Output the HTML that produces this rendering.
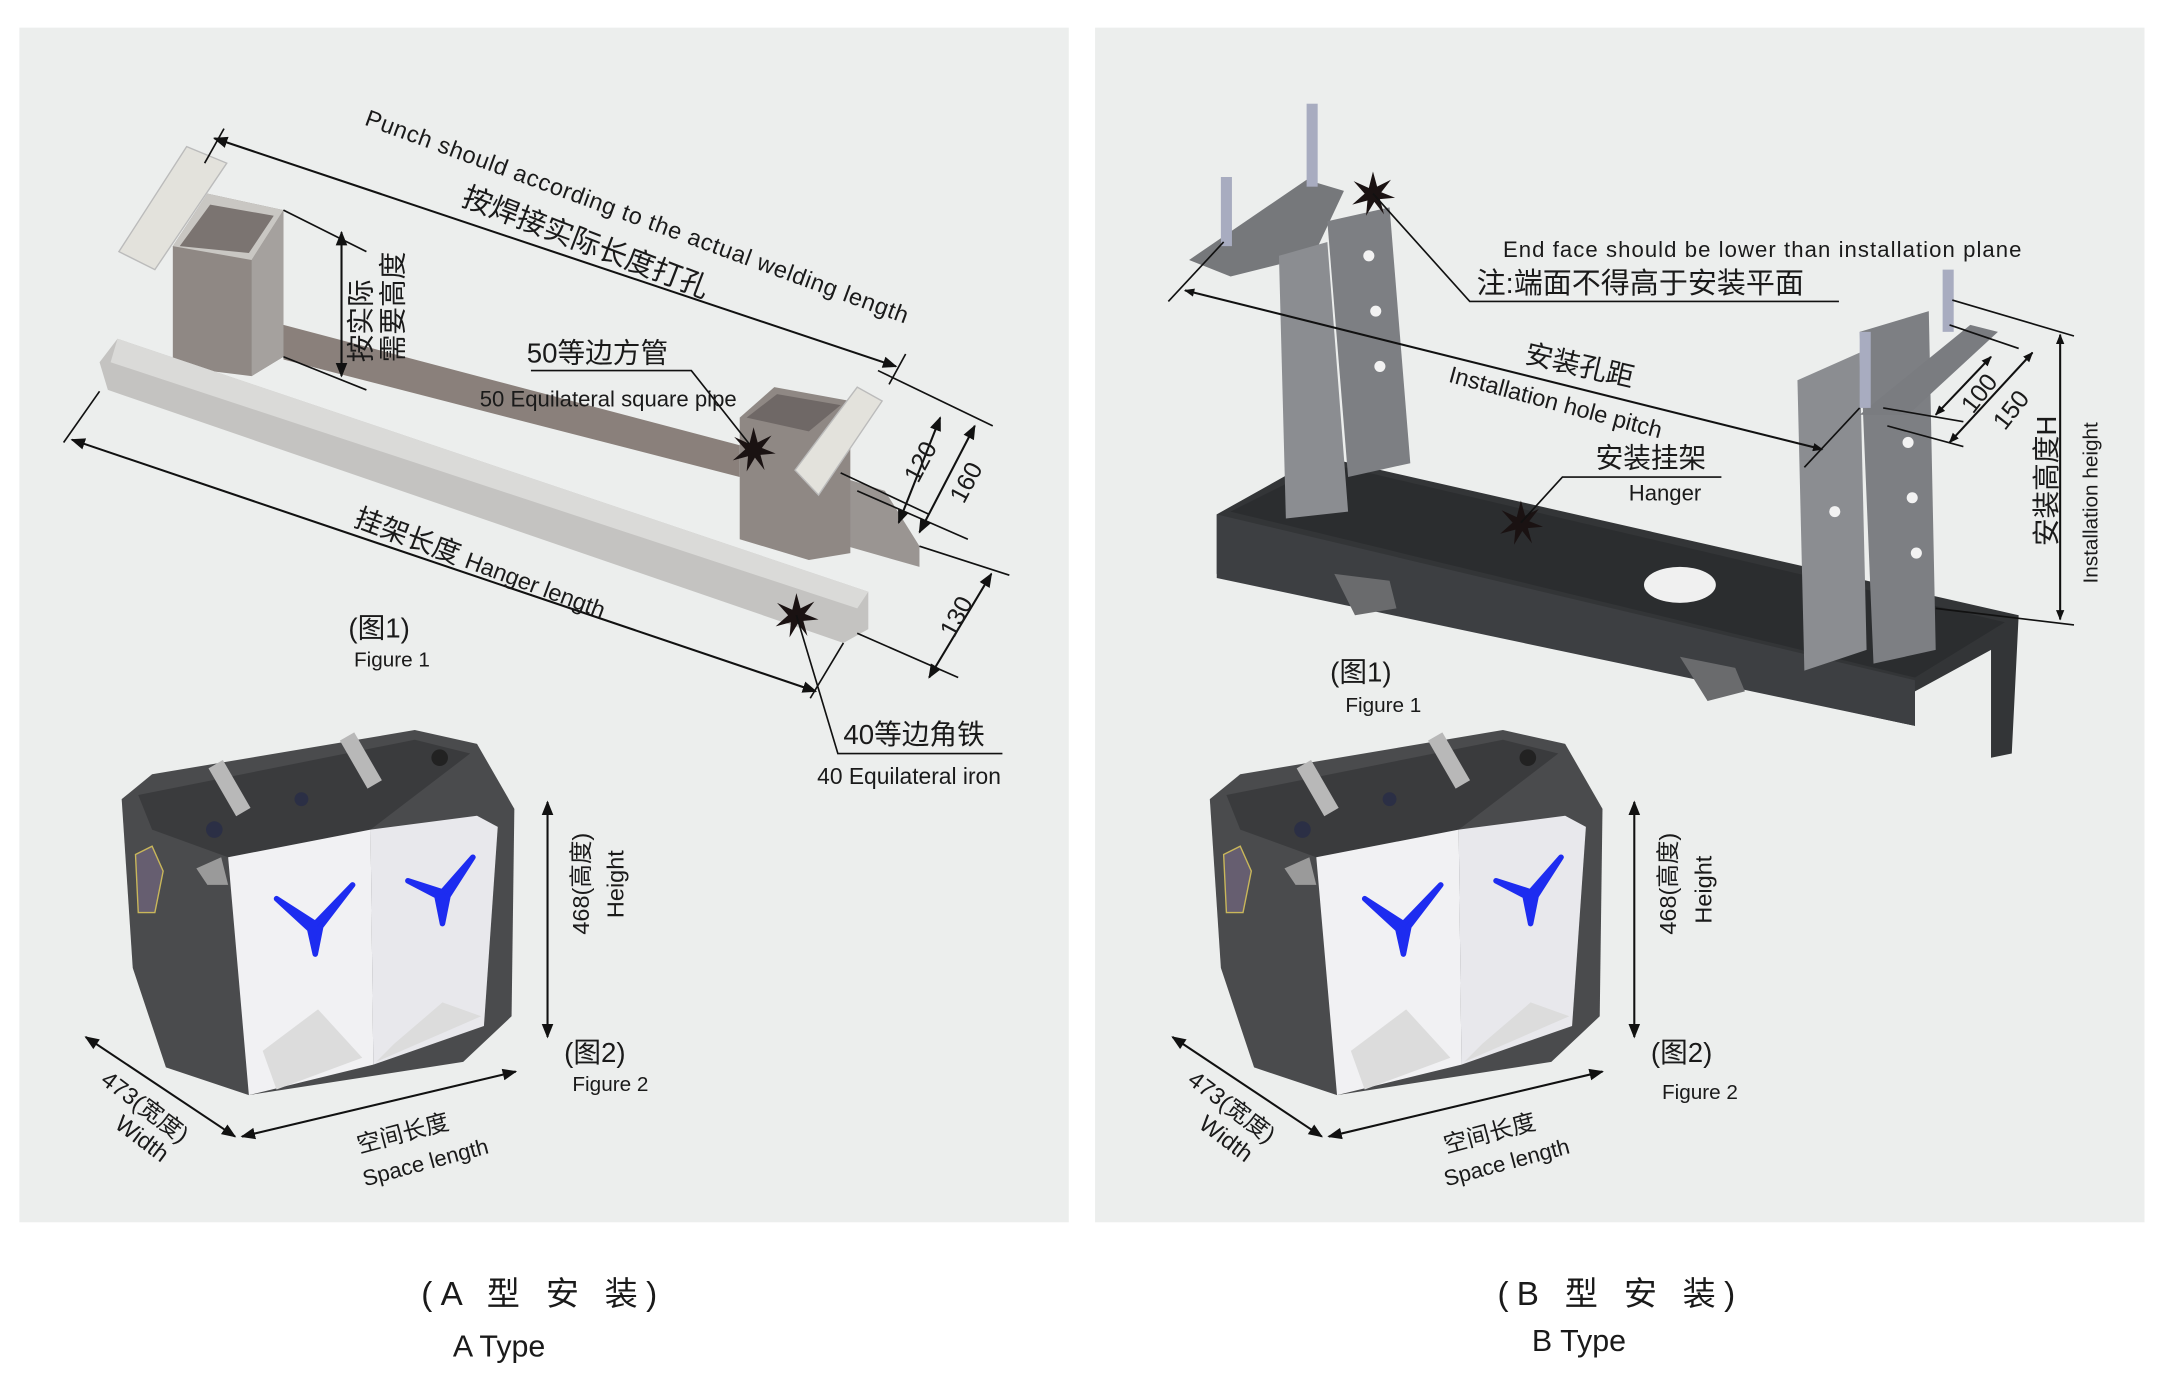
<!DOCTYPE html>
<html><head><meta charset="utf-8"><style>
html,body{margin:0;padding:0;background:#fff;width:2168px;height:1373px;overflow:hidden}
svg{display:block}
text{font-family:"Liberation Sans","Noto Sans CJK SC",sans-serif;fill:#1a1a1a}
</style></head><body>
<svg width="2168" height="1373" viewBox="0 0 1568 993" xmlns="http://www.w3.org/2000/svg">
<defs>
<marker id="a" viewBox="0 0 10 10" refX="9" refY="5" markerWidth="7" markerHeight="7" orient="auto-start-reverse"><path d="M0,1 L10,5 L0,9 z" fill="#111"/></marker>
<marker id="b" viewBox="0 0 10 10" refX="9" refY="5" markerWidth="5" markerHeight="5" orient="auto-start-reverse"><path d="M0,1 L10,5 L0,9 z" fill="#111"/></marker>
<g id="star"><path d="M0,-16 L3,-5 L13,-10 L6,-1 L16,3 L5,4 L8,15 L1,6 L-5,16 L-4,5 L-15,8 L-6,0 L-14,-9 L-3,-4 z" fill="#1a1212"/></g>
<g id="dev">
<polygon points="88,578 110,560 300,528 345,538 372,585 370,735 335,768 180,792 120,772 96,700" fill="#4a4b4d"/>
<polygon points="100,575 300,535 340,545 268,600 165,620 110,600" fill="#3a3b3d"/>
<polygon points="165,620 268,600 270,770 180,792" fill="#f1f1f3"/>
<polygon points="268,600 345,590 360,598 350,742 270,770" fill="#e8e8ec"/>
<polygon points="190,760 230,730 262,765 200,788" fill="#dcdcdc"/>
<polygon points="285,755 320,725 348,735 272,768" fill="#dcdcdc"/>
<polygon points="142,628 160,620 165,640 150,640" fill="#9a9a9a"/>
<path d="M200,650 L228,668 L255,640 L232,670 L228,690 L224,672 z" fill="#1d2cf0" stroke="#1d2cf0" stroke-width="4" stroke-linejoin="round"/>
<path d="M295,637 L320,645 L342,620 L324,648 L320,668 L316,648 z" fill="#1d2cf0" stroke="#1d2cf0" stroke-width="4" stroke-linejoin="round"/>
<polygon points="98,618 110,612 118,630 112,660 100,660" fill="#665e70" stroke="#c9b75a" stroke-width="1"/>
<rect x="160" y="550" width="12" height="40" fill="#b8b8b8" transform="rotate(-30 166 570)"/>
<rect x="255" y="530" width="12" height="40" fill="#b8b8b8" transform="rotate(-30 261 550)"/>
<circle cx="155" cy="600" r="6" fill="#2b2f45"/><circle cx="218" cy="578" r="5" fill="#2b2f45"/><circle cx="318" cy="548" r="6" fill="#222"/>
</g>
</defs>
<rect x="14" y="20" width="759" height="864" fill="#eceeed"/>
<rect x="792" y="20" width="759" height="864" fill="#eceeed"/>

<!-- LEFT FIG 1 -->
<polygon points="86,182 135,106 164,118 112,195" fill="#e3e2dc" stroke="#bbb"/>
<polygon points="205,235 535,322 535,345 205,260" fill="#8a807b"/>
<polygon points="125,178 150,140 205,152 205,258 182,272 125,265" fill="#8f8884"/>
<polygon points="125,178 150,140 205,152 182,188" fill="#c9c7c3"/>
<polygon points="182,188 205,152 205,258 182,272" fill="#a5a19e"/>
<polygon points="130,178 152,148 198,156 180,183" fill="#7b7471"/>
<polygon points="560,330 640,355 665,395 665,410 560,380" fill="#9a9592"/>
<polygon points="535,302 560,280 615,290 615,400 585,405 535,390" fill="#8f8884"/>
<polygon points="540,302 562,285 608,293 585,312" fill="#6f6866"/>
<polygon points="575,340 620,280 638,290 592,358" fill="#e3e2dc" stroke="#bbb"/>
<polygon points="85,245 628,428 628,455 610,465 78,282 72,262" fill="#c4c3c1"/>
<polygon points="85,245 628,428 620,440 80,262" fill="#dadad8"/>
<line x1="155" y1="100" x2="648" y2="265" stroke="#111" stroke-width="1.5" marker-start="url(#a)" marker-end="url(#a)"/>
<line x1="162" y1="93" x2="148" y2="118" stroke="#111" stroke-width="1.2"/>
<line x1="655" y1="256" x2="643" y2="278" stroke="#111" stroke-width="1.2"/>
<text transform="translate(263,90) rotate(20.2)" font-size="17" letter-spacing="0.5">Punch should according to the actual welding length</text>
<text transform="translate(333,148) rotate(21)" font-size="21">按焊接实际长度打孔</text>
<line x1="247" y1="168" x2="247" y2="272" stroke="#111" stroke-width="1.5" marker-start="url(#a)" marker-end="url(#a)"/>
<line x1="205" y1="152" x2="265" y2="182" stroke="#111" stroke-width="1.2"/>
<line x1="205" y1="258" x2="265" y2="282" stroke="#111" stroke-width="1.2"/>
<text transform="translate(268,262) rotate(-90)" font-size="20">按实际</text>
<text transform="translate(291,262) rotate(-90)" font-size="20">需要高度</text>
<text x="381" y="262" font-size="20">50等边方管</text>
<polyline points="384,268 500,268 545,325" fill="none" stroke="#111" stroke-width="1.2"/>
<text x="347" y="294" font-size="16">50 Equilateral square pipe</text>
<use href="#star" x="545" y="325"/>
<use href="#star" x="576" y="445"/>
<line x1="52" y1="318" x2="590" y2="500" stroke="#111" stroke-width="1.5" marker-start="url(#a)" marker-end="url(#a)"/>
<line x1="72" y1="283" x2="46" y2="320" stroke="#111" stroke-width="1.2"/>
<line x1="610" y1="465" x2="586" y2="505" stroke="#111" stroke-width="1.2"/>
<text transform="translate(255,380) rotate(20.5)" font-size="20">挂架长度 <tspan font-size="17">Hanger length</tspan></text>
<line x1="635" y1="268" x2="718" y2="308" stroke="#111" stroke-width="1.2"/>
<line x1="608" y1="342" x2="672" y2="372" stroke="#111" stroke-width="1.2"/>
<line x1="620" y1="355" x2="700" y2="390" stroke="#111" stroke-width="1.2"/>
<line x1="665" y1="395" x2="730" y2="416" stroke="#111" stroke-width="1.2"/>
<line x1="620" y1="458" x2="693" y2="490" stroke="#111" stroke-width="1.2"/>
<line x1="680" y1="302" x2="650" y2="378" stroke="#111" stroke-width="1.5" marker-start="url(#a)" marker-end="url(#a)"/>
<line x1="705" y1="308" x2="665" y2="385" stroke="#111" stroke-width="1.5" marker-start="url(#a)" marker-end="url(#a)"/>
<line x1="717" y1="415" x2="672" y2="490" stroke="#111" stroke-width="1.5" marker-start="url(#a)" marker-end="url(#a)"/>
<text transform="translate(664,350) rotate(-62)" font-size="18">120</text>
<text transform="translate(697,365) rotate(-62)" font-size="18">160</text>
<text transform="translate(690,462) rotate(-62)" font-size="18">130</text>
<text x="610" y="538" font-size="20">40等边角铁</text>
<polyline points="576,445 606,545 725,545" fill="none" stroke="#111" stroke-width="1.2"/>
<text x="591" y="567" font-size="16.5">40 Equilateral iron</text>
<text x="252" y="461" font-size="20">(图1)</text>
<text x="256" y="482" font-size="15">Figure 1</text>

<!-- LEFT FIG 2 -->
<use href="#dev"/>
<line x1="396" y1="580" x2="396" y2="750" stroke="#111" stroke-width="1.5" marker-start="url(#a)" marker-end="url(#a)"/>
<text transform="translate(426,676) rotate(-90)" font-size="17">468(高度)</text>
<text transform="translate(451,664) rotate(-90)" font-size="17">Height</text>
<text x="408" y="768" font-size="20">(图2)</text>
<text x="414" y="789" font-size="15">Figure 2</text>
<line x1="62" y1="750" x2="170" y2="822" stroke="#111" stroke-width="1.5" marker-start="url(#a)" marker-end="url(#a)"/>
<line x1="175" y1="822" x2="373" y2="775" stroke="#111" stroke-width="1.5" marker-start="url(#a)" marker-end="url(#a)"/>
<text transform="translate(72,783) rotate(37)" font-size="17">473(宽度)</text>
<text transform="translate(82,815) rotate(37)" font-size="17">Width</text>
<text transform="translate(260,834) rotate(-15)" font-size="17">空间长度</text>
<text transform="translate(264,858) rotate(-15)" font-size="16">Space length</text>

<!-- RIGHT FIG 1 -->
<polygon points="880,372 955,330 1460,445 1455,545 1440,548 1440,470 1385,500 1385,525 880,415" fill="#333537"/>
<polygon points="890,370 960,335 1450,450 1385,490" fill="#2b2d2f"/>
<polygon points="880,372 1385,492 1385,525 880,418" fill="#3d3f42"/>
<ellipse cx="1215" cy="423" rx="26" ry="13" fill="#f0f0f0"/>
<polygon points="965,415 1005,420 1010,440 980,445" fill="#6a6b6d"/>
<polygon points="1215,475 1255,483 1262,500 1235,507" fill="#6a6b6d"/>
<polygon points="860,188 945,130 972,138 950,185 890,200" fill="#76787b"/>
<polygon points="925,185 960,175 975,370 930,375" fill="#8b8d91"/>
<polygon points="960,160 1005,150 1020,335 975,345" fill="#7d7f83"/>
<polygon points="1300,275 1345,255 1350,470 1305,485" fill="#8b8d91"/>
<polygon points="1345,240 1395,225 1400,470 1355,480" fill="#7d7f83"/>
<polygon points="1345,300 1425,235 1445,240 1380,300" fill="#7a7c80"/>
<rect x="883" y="128" width="8" height="50" fill="#a8acc0"/>
<rect x="945" y="75" width="8" height="60" fill="#a8acc0"/>
<rect x="1345" y="240" width="8" height="55" fill="#a8acc0"/>
<rect x="1405" y="195" width="8" height="45" fill="#a8acc0"/>
<g fill="#f2f2f2"><circle cx="990" cy="185" r="4"/><circle cx="995" cy="225" r="4"/><circle cx="998" cy="265" r="4"/><circle cx="1380" cy="320" r="4"/><circle cx="1383" cy="360" r="4"/><circle cx="1386" cy="400" r="4"/><circle cx="1327" cy="370" r="4"/></g>
<use href="#star" x="993" y="140"/>
<use href="#star" x="1100" y="378"/>
<text x="1087" y="186" font-size="16" textLength="375" lengthAdjust="spacing">End face should be lower than installation plane</text>
<text x="1068" y="212" font-size="21">注:端面不得高于安装平面</text>
<polyline points="993,140 1063,218 1330,218" fill="none" stroke="#111" stroke-width="1.2"/>
<line x1="857" y1="210" x2="1318" y2="325" stroke="#111" stroke-width="1.5" marker-start="url(#b)" marker-end="url(#b)"/>
<line x1="885" y1="175" x2="845" y2="218" stroke="#111" stroke-width="1.2"/>
<line x1="1345" y1="295" x2="1305" y2="338" stroke="#111" stroke-width="1.2"/>
<text transform="translate(1102,262) rotate(13)" font-size="20">安装孔距</text>
<text transform="translate(1047,276) rotate(15)" font-size="17">Installation hole pitch</text>
<text x="1154" y="338" font-size="20">安装挂架</text>
<polyline points="1100,378 1130,345 1245,345" fill="none" stroke="#111" stroke-width="1.2"/>
<text x="1178" y="362" font-size="16">Hanger</text>
<line x1="1412" y1="217" x2="1500" y2="243" stroke="#111" stroke-width="1.2"/>
<line x1="1410" y1="235" x2="1460" y2="252" stroke="#111" stroke-width="1.2"/>
<line x1="1362" y1="295" x2="1420" y2="305" stroke="#111" stroke-width="1.2"/>
<line x1="1365" y1="308" x2="1420" y2="323" stroke="#111" stroke-width="1.2"/>
<line x1="1440" y1="258" x2="1400" y2="300" stroke="#111" stroke-width="1.5" marker-start="url(#b)" marker-end="url(#b)"/>
<line x1="1470" y1="255" x2="1410" y2="320" stroke="#111" stroke-width="1.5" marker-start="url(#b)" marker-end="url(#b)"/>
<line x1="1400" y1="440" x2="1500" y2="452" stroke="#111" stroke-width="1.2"/>
<line x1="1490" y1="242" x2="1490" y2="448" stroke="#111" stroke-width="1.5" marker-start="url(#b)" marker-end="url(#b)"/>
<text transform="translate(1427,300) rotate(-52)" font-size="18">100</text>
<text transform="translate(1450,312) rotate(-52)" font-size="18">150</text>
<text transform="translate(1487,395) rotate(-90)" font-size="20">安装高度H</text>
<text transform="translate(1517,422) rotate(-90)" font-size="15">Installation height</text>
<text x="962" y="493" font-size="20">(图1)</text>
<text x="973" y="515" font-size="15">Figure 1</text>

<!-- RIGHT FIG 2 -->
<use href="#dev" x="787" y="0"/>
<line x1="1182" y1="580" x2="1182" y2="750" stroke="#111" stroke-width="1.5" marker-start="url(#a)" marker-end="url(#a)"/>
<text transform="translate(1212,676) rotate(-90)" font-size="17">468(高度)</text>
<text transform="translate(1238,668) rotate(-90)" font-size="17">Height</text>
<text x="1194" y="768" font-size="20">(图2)</text>
<text x="1202" y="795" font-size="15">Figure 2</text>
<line x1="848" y1="750" x2="956" y2="822" stroke="#111" stroke-width="1.5" marker-start="url(#a)" marker-end="url(#a)"/>
<line x1="961" y1="822" x2="1159" y2="775" stroke="#111" stroke-width="1.5" marker-start="url(#a)" marker-end="url(#a)"/>
<text transform="translate(858,783) rotate(37)" font-size="17">473(宽度)</text>
<text transform="translate(866,815) rotate(37)" font-size="17">Width</text>
<text transform="translate(1046,834) rotate(-15)" font-size="17">空间长度</text>
<text transform="translate(1046,858) rotate(-15)" font-size="16">Space length</text>

<text x="393" y="944" font-size="24" text-anchor="middle" letter-spacing="6">(A 型 安 装)</text>
<text x="361" y="981" font-size="22" text-anchor="middle">A Type</text>
<text x="1172" y="944" font-size="24" text-anchor="middle" letter-spacing="6">(B 型 安 装)</text>
<text x="1142" y="977" font-size="22" text-anchor="middle">B Type</text>
</svg>
</body></html>
